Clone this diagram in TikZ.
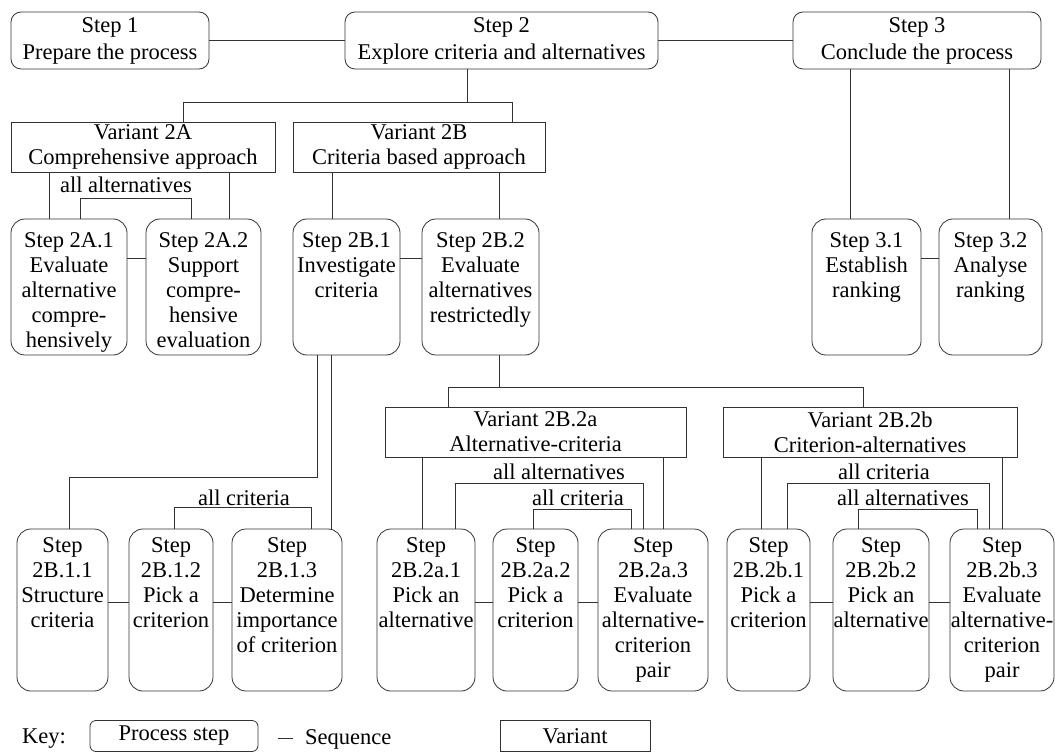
\documentclass[tikz,border=0pt]{standalone}
\usepackage{fontspec}
\setmainfont{Liberation Serif}
\usetikzlibrary{calc}
\begin{document}
\begin{tikzpicture}[x=1pt,y=-1pt,
  every node/.style={font=\fontsize{22.5}{25}\selectfont, inner sep=0pt, text=black},
  ln/.style={draw=black!80, line width=0.8pt},
  pstep/.style={draw=black!80, line width=0.8pt, rounded corners=14pt, inner sep=0pt},
  topstep/.style={pstep, rounded corners=10pt, align=center},
  variantbox/.style={draw=black!80, line width=0.8pt, align=center},
  txt/.style={align=center, anchor=north},
  lbl/.style={anchor=center},
]
\useasboundingbox (0,0) rectangle (1055,754);

% ---------- top row ----------
\node[topstep, minimum width=198pt, minimum height=57pt] (s1) at (110,40.5) {Step 1\\[2pt]Prepare the process};
\node[topstep, minimum width=313pt, minimum height=57pt] (s2) at (501.5,40.5) {Step 2\\[2pt]Explore criteria and alternatives};
\node[topstep, minimum width=248pt, minimum height=57pt] (s3) at (917,40.5) {Step 3\\[2pt]Conclude the process};
\draw[ln] (s1.east) -- (s2.west);
\draw[ln] (s2.east) -- (s3.west);

% ---------- variants 2A / 2B ----------
\node[variantbox, minimum width=264pt, minimum height=50pt] (v2a) at (143,147) {Variant 2A\\Comprehensive approach};
\node[variantbox, minimum width=252pt, minimum height=50pt] (v2b) at (419,147) {Variant 2B\\Criteria based approach};
\draw[ln] ([xshift=-34.5pt]s2.south) -- ++(0,33) coordinate (j2);
\draw[ln] ([xshift=40pt]v2a.north) |- (j2) -| ([xshift=93pt]v2b.north);

% ---------- row 2 steps ----------
\node[pstep, minimum width=116pt, minimum height=136pt] (s2a1) at (69,287) {};
\node[txt] (t2a1) at ($(s2a1.north)+(0,14)$) {Step 2A.1\\Evaluate\\alternative\\compre-\\hensively};
\node[pstep, minimum width=115pt, minimum height=136pt] (s2a2) at (203.5,287) {};
\node[txt] (t2a2) at ($(s2a2.north)+(0,14)$) {Step 2A.2\\Support\\compre-\\hensive\\evaluation};
\node[pstep, minimum width=107pt, minimum height=136pt] (s2b1) at (346.5,287) {};
\node[txt] (t2b1) at ($(s2b1.north)+(0,14)$) {Step 2B.1\\Investigate\\criteria};
\node[pstep, minimum width=117pt, minimum height=136pt] (s2b2) at (480.5,287) {};
\node[txt] (t2b2) at ($(s2b2.north)+(0,14)$) {Step 2B.2\\Evaluate\\alternatives\\restrictedly};
\node[pstep, minimum width=109pt, minimum height=136pt] (s31) at (866.5,287) {};
\node[txt] (t31) at ($(s31.north)+(0,14)$) {Step 3.1\\Establish\\ranking};
\node[pstep, minimum width=103pt, minimum height=136pt] (s32) at (990.5,287) {};
\node[txt] (t32) at ($(s32.north)+(0,14)$) {Step 3.2\\Analyse\\ranking};

% variant 2A links
\draw[ln] ([xshift=-94pt]v2a.south) -- ([xshift=-20pt]s2a1.north);
\draw[ln] ([xshift=86pt]v2a.south) -- ([xshift=25.5pt]s2a2.north);
\draw[ln] ([xshift=11pt]s2a1.north) -- ++(0,-20) -| ([xshift=-12.5pt]s2a2.north);
\node[lbl] (l2a) at (126,185) {all alternatives};
\draw[ln] ([yshift=29pt]s2a1.east) -- ([yshift=29pt]s2a2.west);

% variant 2B links
\draw[ln] ([xshift=-87pt]v2b.south) -- ([xshift=-14.5pt]s2b1.north);
\draw[ln] ([xshift=80pt]v2b.south) -- ([xshift=18.5pt]s2b2.north);
\draw[ln] ([yshift=29pt]s2b1.east) -- ([yshift=29pt]s2b2.west);

% step 3 links
\draw[ln] ([xshift=-67pt]s3.south) -- ([xshift=-16.5pt]s31.north);
\draw[ln] ([xshift=92pt]s3.south) -- ([xshift=18.5pt]s32.north);
\draw[ln] ([yshift=29pt]s31.east) -- ([yshift=29pt]s32.west);

% ---------- variants 2B.2a / 2B.2b ----------
\node[variantbox, minimum width=301pt, minimum height=50pt] (v2b2a) at (535.5,432) {Variant 2B.2a\\Alternative-criteria};
\node[variantbox, minimum width=294pt, minimum height=50pt] (v2b2b) at (870,432) {Variant 2B.2b\\Criterion-alternatives};
\draw[ln] ([xshift=18.5pt]s2b2.south) -- ++(0,32) coordinate (j22);
\draw[ln] ([xshift=-87.5pt]v2b2a.north) |- (j22) -| ([xshift=-7pt]v2b2b.north);

% ---------- row 3 steps ----------
\node[pstep, minimum width=91pt, minimum height=162pt] (s2b11) at (62.5,610) {};
\node[txt] (t2b11) at ($(s2b11.north)+(0,9)$) {Step\\2B.1.1\\Structure\\criteria};
\node[pstep, minimum width=84pt, minimum height=162pt] (s2b12) at (171,610) {};
\node[txt] (t2b12) at ($(s2b12.north)+(0,9)$) {Step\\2B.1.2\\Pick a\\criterion};
\node[pstep, minimum width=110pt, minimum height=162pt] (s2b13) at (287,610) {};
\node[txt] (t2b13) at ($(s2b13.north)+(0,9)$) {Step\\2B.1.3\\Determine\\importance\\of criterion};

\node[pstep, minimum width=98pt, minimum height=162pt] (s2b2a1) at (426,610) {};
\node[txt] (t2b2a1) at ($(s2b2a1.north)+(0,9)$) {Step\\2B.2a.1\\Pick an\\alternative};
\node[pstep, minimum width=85pt, minimum height=162pt] (s2b2a2) at (535.5,610) {};
\node[txt] (t2b2a2) at ($(s2b2a2.north)+(0,9)$) {Step\\2B.2a.2\\Pick a\\criterion};
\node[pstep, minimum width=110pt, minimum height=162pt] (s2b2a3) at (653,610) {};
\node[txt] (t2b2a3) at ($(s2b2a3.north)+(0,9)$) {Step\\2B.2a.3\\Evaluate\\alternative-\\criterion\\pair};

\node[pstep, minimum width=83pt, minimum height=162pt] (s2b2b1) at (768.5,610) {};
\node[txt] (t2b2b1) at ($(s2b2b1.north)+(0,9)$) {Step\\2B.2b.1\\Pick a\\criterion};
\node[pstep, minimum width=96pt, minimum height=162pt] (s2b2b2) at (881,610) {};
\node[txt] (t2b2b2) at ($(s2b2b2.north)+(0,9)$) {Step\\2B.2b.2\\Pick an\\alternative};
\node[pstep, minimum width=104pt, minimum height=162pt] (s2b2b3) at (1002,610) {};
\node[txt] (t2b2b3) at ($(s2b2b3.north)+(0,9)$) {Step\\2B.2b.3\\Evaluate\\alternative-\\criterion\\pair};

% step 2B.1 links
\draw[ln] ([xshift=-29.5pt]s2b1.south) -- ++(0,122) -| ([xshift=6.5pt]s2b11.north);
\draw[ln] ([xshift=-15.5pt]s2b1.south) -- ([xshift=44pt]s2b13.north);
\draw[ln] ([xshift=3pt]s2b12.north) -- ++(0,-21) -| ([xshift=24pt]s2b13.north);
\node[lbl] (l2b1) at (244,498) {all criteria};
\draw[ln] ([yshift=8pt]s2b11.east) -- ([yshift=8pt]s2b12.west);
\draw[ln] ([yshift=8pt]s2b12.east) -- ([yshift=8pt]s2b13.west);

% variant 2B.2a links
\draw[ln] ([xshift=-113.5pt]v2b2a.south) -- ([xshift=-4pt]s2b2a1.north);
\draw[ln] ([xshift=127.5pt]v2b2a.south) -- ([xshift=10pt]s2b2a3.north);
\draw[ln] ([xshift=29pt]s2b2a1.north) -- ++(0,-45) -| ([xshift=-10pt]s2b2a3.north);
\draw[ln] ([xshift=-2.5pt]s2b2a2.north) -- ++(0,-19) -| ([xshift=-22pt]s2b2a3.north);
\node[lbl] (l2b2a1) at (559,472) {all alternatives};
\node[lbl] (l2b2a2) at (578,498) {all criteria};
\draw[ln] ([yshift=8pt]s2b2a1.east) -- ([yshift=8pt]s2b2a2.west);
\draw[ln] ([yshift=8pt]s2b2a2.east) -- ([yshift=8pt]s2b2a3.west);

% variant 2B.2b links
\draw[ln] ([xshift=-109pt]v2b2b.south) -- ([xshift=-7.5pt]s2b2b1.north);
\draw[ln] ([xshift=132pt]v2b2b.south) -- (s2b2b3.north);
\draw[ln] ([xshift=18.5pt]s2b2b1.north) -- ++(0,-45) -| ([xshift=-13pt]s2b2b3.north);
\draw[ln] ([xshift=-23pt]s2b2b2.north) -- ++(0,-19) -| ([xshift=-25pt]s2b2b3.north);
\node[lbl] (l2b2b1) at (884,472) {all criteria};
\node[lbl] (l2b2b2) at (903,498) {all alternatives};
\draw[ln] ([yshift=8pt]s2b2b1.east) -- ([yshift=8pt]s2b2b2.west);
\draw[ln] ([yshift=8pt]s2b2b2.east) -- ([yshift=8pt]s2b2b3.west);

% ---------- key ----------
\node[lbl] (key) at (44,739) {Key:};
\node[pstep, rounded corners=6pt, minimum width=168pt, minimum height=31pt] (kstep) at (174,736) {Process step};
\coordinate (ks1) at (278,738);
\coordinate (ks2) at (293,738);
\draw[ln] (ks1) -- (ks2);
\node[anchor=west] (kseq) at (305,739) {Sequence};
\node[variantbox, minimum width=150pt, minimum height=31pt] (kvar) at (575,736) {Variant};
\end{tikzpicture}
\end{document}
